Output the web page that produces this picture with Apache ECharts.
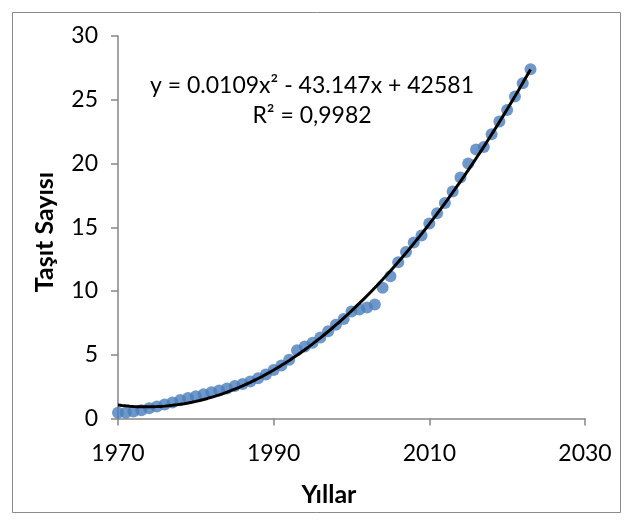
<!DOCTYPE html>
<html>
<head>
<meta charset="utf-8">
<script src="https://cdn.jsdelivr.net/npm/echarts@6/dist/echarts.min.js"></script>
<style>
html,body{margin:0;padding:0;background:#fff;}
#c{width:631px;height:524px;}
</style>
</head>
<body>
<div id="c"></div>
<script>
// Data
const years = [1970,1971,1972,1973,1974,1975,1976,1977,1978,1979,
  1980,1981,1982,1983,1984,1985,1986,1987,1988,1989,
  1990,1991,1992,1993,1994,1995,1996,1997,1998,1999,
  2000,2001,2002,2003,2004,2005,2006,2007,2008,2009,
  2010,2011,2012,2013,2014,2015,2016,2017,2018,2019,
  2020,2021,2022,2023];
const vehicles = [0.45,0.45,0.55,0.65,0.8,0.95,1.1,1.25,1.45,1.6,
  1.75,1.9,2.05,2.2,2.35,2.55,2.7,2.9,3.15,3.45,
  3.8,4.15,4.6,5.35,5.65,5.95,6.35,6.85,7.35,7.8,
  8.4,8.55,8.7,8.95,10.25,11.15,12.25,13.05,13.8,14.35,
  15.3,16.1,16.9,17.8,18.9,20.0,21.1,21.3,22.3,23.3,
  24.2,25.25,26.3,27.4];
const xTicks = [1970, 1990, 2010, 2030];
const yTicks = [0, 5, 10, 15, 20, 25, 30];
const equationText = 'y = 0.0109x² - 43.147x + 42581';
const r2Text = 'R² = 0,9982';
const xTitle = 'Yıllar';
const yTitle = 'Taşıt Sayısı';

// Quadratic least-squares trendline fitted to the data
function quadFit(xs, ys) {
  const m = xs.reduce((a, b) => a + b, 0) / xs.length;
  let s = [0,0,0,0,0], t = [0,0,0];
  xs.forEach((x, i) => {
    const u = x - m, y = ys[i];
    let p = 1;
    for (let k = 0; k < 5; k++) { s[k] += p; p *= u; }
    t[0] += y; t[1] += y * u; t[2] += y * u * u;
  });
  const A = [[s[0], s[1], s[2], t[0]], [s[1], s[2], s[3], t[1]], [s[2], s[3], s[4], t[2]]];
  for (let i = 0; i < 3; i++) {
    for (let j = i + 1; j < 3; j++) {
      const f = A[j][i] / A[i][i];
      for (let k = i; k < 4; k++) A[j][k] -= f * A[i][k];
    }
  }
  const c = [0,0,0];
  for (let i = 2; i >= 0; i--) {
    let v = A[i][3];
    for (let k = i + 1; k < 3; k++) v -= A[i][k] * c[k];
    c[i] = v / A[i][i];
  }
  return x => { const u = x - m; return c[0] + c[1] * u + c[2] * u * u; };
}
const f = quadFit(years, vehicles);
const trend = [];
for (let x = years[0]; x <= years[years.length - 1] + 1e-9; x += 0.25) trend.push([x, f(x)]);

const chart = echarts.init(document.getElementById('c'), null, {renderer: 'canvas'});
const FONT = 'Lato';
chart.setOption({
  animation: false,
  backgroundColor: '#ffffff',
  grid: {left: 118, right: 46, top: 36, bottom: 105.5},
  xAxis: {
    type: 'value', min: xTicks[0], max: xTicks[xTicks.length - 1], interval: 20,
    splitLine: {show: false},
    axisLine: {lineStyle: {color: '#868686', width: 1.5}},
    axisTick: {show: true, length: 7, lineStyle: {color: '#868686', width: 1.5}},
    axisLabel: {color: '#000', fontFamily: FONT, fontSize: 23, margin: 24, formatter: v => String(v)}
  },
  yAxis: {
    type: 'value', min: yTicks[0], max: yTicks[yTicks.length - 1], interval: 5,
    splitLine: {show: false},
    axisLine: {show: true, lineStyle: {color: '#868686', width: 1.5}},
    axisTick: {show: true, length: 7, lineStyle: {color: '#868686', width: 1.5}},
    axisLabel: {color: '#000', fontFamily: FONT, fontSize: 23, margin: 20}
  },
  series: [
    {
      type: 'scatter', data: years.map((y, i) => [y, vehicles[i]]),
      symbol: 'circle', symbolSize: 12,
      itemStyle: {color: '#4A7EBB'}, z: 2
    },
    {
      type: 'line', data: trend, showSymbol: false, smooth: false,
      lineStyle: {color: '#000', width: 3}, z: 3, silent: true
    }
  ],
  graphic: [
    {type: 'rect', shape: {x: 12.5, y: 12.5, width: 608, height: 500},
     style: {fill: 'none', stroke: '#8a8a8a', lineWidth: 1}, silent: true},
    {type: 'text', x: 312, y: 86, style: {text: equationText, font: '23px Lato', fill: '#000', textAlign: 'center', textVerticalAlign: 'middle'}},
    {type: 'text', x: 312, y: 116, style: {text: r2Text, font: '23px Lato', fill: '#000', textAlign: 'center', textVerticalAlign: 'middle'}},
    {type: 'text', x: 329, y: 495, style: {text: xTitle, font: 'bold 25px Lato', fill: '#000', textAlign: 'center', textVerticalAlign: 'middle'}},
    {type: 'text', x: 45, y: 232, rotation: Math.PI / 2, style: {text: yTitle, font: 'bold 25px Lato', fill: '#000', textAlign: 'center', textVerticalAlign: 'middle'}}
  ]
});
</script>
</body>
</html>
